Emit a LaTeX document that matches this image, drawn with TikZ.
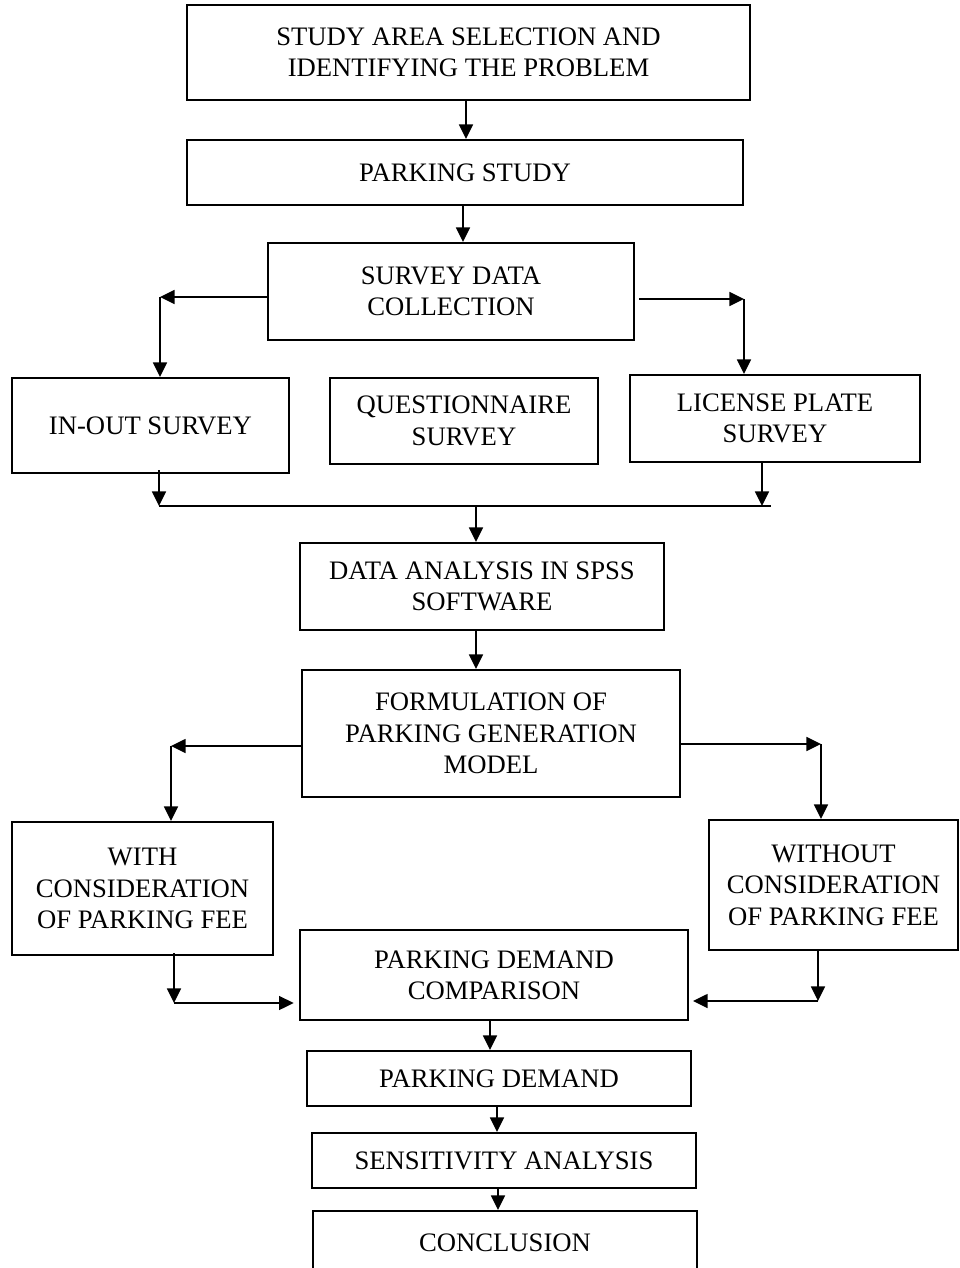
\documentclass[tikz,border=0pt]{standalone}
\usepackage{fontspec}
\setmainfont{Liberation Serif}
\usetikzlibrary{arrows.meta}
\begin{document}
\begin{tikzpicture}[x=0.75pt,y=-0.75pt,
  box/.style={draw,line width=1.5pt,align=center,inner sep=0pt,
    font=\fontsize{20}{23.5}\selectfont},
  arr/.style={line width=1.2pt,-{Triangle[length=11pt,width=10.5pt]}},
  ln/.style={line width=1.2pt}]
\useasboundingbox (0,0) rectangle (960,1268);
\fill[white] (0,0) rectangle (960,1268);
\node[box,minimum width=563*0.75pt,minimum height=95*0.75pt] (study) at (468.5,52.5) {STUDY AREA SELECTION AND\\IDENTIFYING THE PROBLEM};
\node[box,minimum width=556*0.75pt,minimum height=65*0.75pt] (pstudy) at (465,172.5) {PARKING STUDY};
\node[box,minimum width=366*0.75pt,minimum height=97*0.75pt] (sdc) at (451,291.5) {SURVEY DATA\\COLLECTION};
\node[box,minimum width=277*0.75pt,minimum height=95*0.75pt] (inout) at (150.5,425.5) {IN-OUT SURVEY};
\node[box,minimum width=268*0.75pt,minimum height=86*0.75pt] (quest) at (464,421) {QUESTIONNAIRE\\SURVEY};
\node[box,minimum width=290*0.75pt,minimum height=87*0.75pt] (lic) at (775,418.5) {LICENSE PLATE\\SURVEY};
\node[box,minimum width=364*0.75pt,minimum height=87*0.75pt] (da) at (482,586.5) {DATA ANALYSIS IN SPSS\\SOFTWARE};
\node[box,minimum width=378*0.75pt,minimum height=127*0.75pt] (form) at (491,733.5) {FORMULATION OF\\PARKING GENERATION\\MODEL};
\node[box,minimum width=261*0.75pt,minimum height=133*0.75pt] (with) at (142.5,888.5) {WITH\\CONSIDERATION\\OF PARKING FEE};
\node[box,minimum width=249*0.75pt,minimum height=130*0.75pt] (without) at (833.5,885) {WITHOUT\\CONSIDERATION\\OF PARKING FEE};
\node[box,minimum width=388*0.75pt,minimum height=90*0.75pt] (pdc) at (494,975) {PARKING DEMAND\\COMPARISON};
\node[box,minimum width=384*0.75pt,minimum height=55*0.75pt] (pd) at (499,1078.5) {PARKING DEMAND};
\node[box,minimum width=384*0.75pt,minimum height=55*0.75pt] (sens) at (504,1160.5) {SENSITIVITY ANALYSIS};
\node[box,minimum width=384*0.75pt,minimum height=64*0.75pt] (concl) at (505,1243) {CONCLUSION};
% corner coordinates
\coordinate (c1) at (160,297);
\coordinate (c2) at (744,299);
\coordinate (c3) at (159,506);
\coordinate (c4) at (762,506);
\coordinate (c5) at (771,506);
\coordinate (c6) at (476,506);
\coordinate (c7) at (171,746);
\coordinate (c8) at (821,744);
\coordinate (c9) at (174,1003);
\coordinate (c10) at (818,1001);
% connectors
\draw[arr] (466,0 |- study.south) -- (466,0 |- pstudy.north);
\draw[arr] (463,0 |- pstudy.south) -- (463,0 |- sdc.north);
\draw[arr] (sdc.west |- c1) -- (c1);
\draw[arr] (c1) -- (c1 |- inout.north);
\draw[arr] ([xshift=3pt]sdc.east |- c2) -- (c2);
\draw[arr] (c2) -- (c2 |- lic.north);
\draw[arr] ([yshift=3pt]c3 |- inout.south) -- (c3);
\draw[arr] (c4 |- lic.south) -- (c4);
\draw[ln] (c3) -- (c5);
\draw[arr] (c6) -- (c6 |- da.north);
\draw[arr] (476,0 |- da.south) -- (476,0 |- form.north);
\draw[arr] (form.west |- c7) -- (c7);
\draw[arr] (c7) -- (c7 |- with.north);
\draw[arr] (form.east |- c8) -- (c8);
\draw[arr] (c8) -- (c8 |- without.north);
\draw[arr] ([yshift=2pt]c9 |- with.south) -- (c9);
\draw[arr] (c9) -- ([xshift=-4pt]pdc.west |- c9);
\draw[arr] (c10 |- without.south) -- (c10);
\draw[arr] (c10) -- ([xshift=3pt]pdc.east |- c10);
\draw[arr] (490,0 |- pdc.south) -- (490,0 |- pd.north);
\draw[arr] (497,0 |- pd.south) -- (497,0 |- sens.north);
\draw[arr] (498,0 |- sens.south) -- (498,0 |- concl.north);
\end{tikzpicture}
\end{document}
